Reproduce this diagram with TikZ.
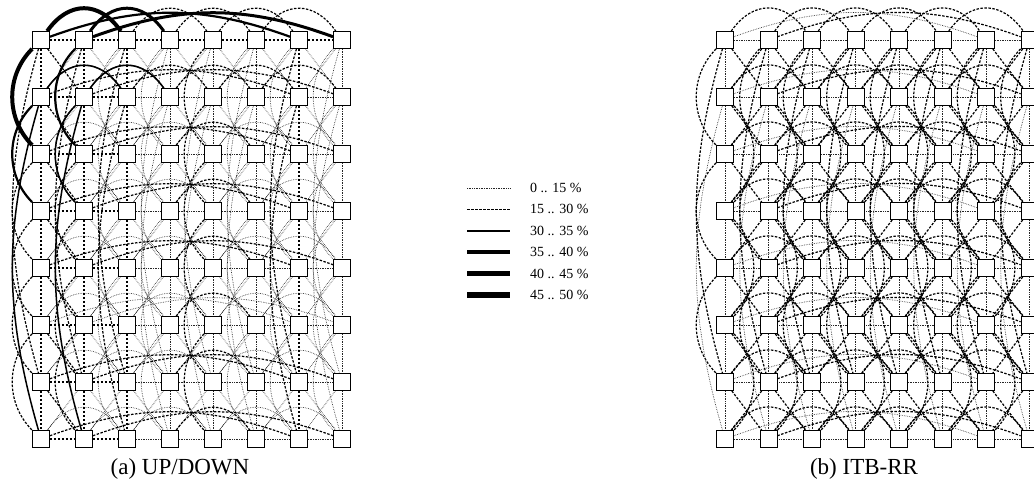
\documentclass[tikz,border=0pt]{standalone}
\usepackage{fontspec}
\setmainfont{Liberation Serif}
\pgfdeclarelayer{links}
\pgfsetlayers{links,main}
\tikzset{
  swbox/.style={rectangle, draw=black, fill=white, line width=0.8pt,
    minimum size=17pt, inner sep=0pt},
  % link load classes
  u0/.style={line width=0.7pt, black!85, dash pattern=on 0.6pt off 1.1pt},
  u1/.style={line width=1.2pt, dash pattern=on 2.5pt off 1.5pt},
  u2/.style={line width=1.5pt},
  u3/.style={line width=2.2pt},
  u4/.style={line width=3pt},
  u5/.style={line width=4pt},
  % link shapes
  hop/.style={out=55, in=125, looseness=1.3},
  vhopl/.style={bend right=45},
  vhopr/.style={bend left=45},
  hlong/.style={bend left=20},
  vlong/.style={bend right=16},
  legtext/.style={anchor=west, inner sep=0pt, font=\fontsize{14}{16}\selectfont},
  captext/.style={inner sep=0pt, font=\fontsize{23}{26}\selectfont},
}
\begin{document}
\begin{tikzpicture}[x=1pt, y=-1pt]
\useasboundingbox (0,0) rectangle (1034,481);

% switches of both networks
\foreach \c in {0,...,7}{
  \foreach \r in {0,...,7}{
    \node[swbox] (a-\c-\r) at ({41+43*\c},{40+57*\r}) {};
    \node[swbox] (b-\c-\r) at ({725+43.5*\c},{40+57*\r}) {};
  }
}

\begin{pgfonlayer}{links}
% ---------------- network (a): UP/DOWN
\foreach \c in {0,...,7}{
  \foreach \r in {0,...,7}{
    \pgfmathtruncatemacro\cn{\c+1}\pgfmathtruncatemacro\cnn{\c+2}
    \pgfmathtruncatemacro\rn{\r+1}\pgfmathtruncatemacro\rnn{\r+2}
    % row neighbour
    \ifnum\c<7
      \def\st{u0}\ifnum\c<2 \def\st{u1}\fi\ifnum\r=0 \def\st{u1}\fi
      \draw[\st] (a-\c-\r) -- (a-\cn-\r);
    \fi
    % column neighbour
    \ifnum\r<7
      \def\st{u0}\ifnum\c<3 \def\st{u1}\fi\ifnum\c=6 \def\st{u1}\fi
      \draw[\st] (a-\c-\r) -- (a-\c-\rn);
    \fi
    % diagonals
    \ifnum\c<7 \ifnum\r<7
      \def\st{u0}\ifnum\c=0 \def\st{u1}\fi
      \draw[\st] (a-\c-\r) -- (a-\cn-\rn);
      \draw[u0] (a-\cn-\r) -- (a-\c-\rn);
    \fi\fi
    % two-column hops
    \ifnum\c<6
      \def\st{u0}\ifnum\r<2 \def\st{u1}\fi\ifnum\c=3 \def\st{u1}\fi
      \draw[\st] (a-\c-\r) to[hop] (a-\cnn-\r);
    \fi
    % two-row hops
    \ifnum\r<6
      \def\st{u0}\ifnum\c<2 \def\st{u1}\fi\ifnum\c=4 \def\st{u1}\fi
      \draw[\st] (a-\c-\r) to[vhopl] (a-\c-\rnn);
    \fi
  }
}
% long row links
\foreach \r/\ls in {1/u1,2/u1,3/u1,4/u1,5/u0,6/u1,7/u1}{
  \draw[\ls] (a-0-\r) to[hlong] (a-6-\r);
  \draw[\ls] (a-1-\r) to[hlong] (a-7-\r);
}
% long column links
\foreach \c/\ls in {2/u1,3/u0,4/u0,5/u0,6/u1,7/u0}{
  \draw[\ls] (a-\c-0) to[vlong] (a-\c-6);
  \draw[\ls] (a-\c-1) to[vlong] (a-\c-7);
}
\draw[u1] (a-0-0) to[vlong] (a-0-6);
\draw[u1] (a-1-0) to[vlong] (a-1-6);
% heavily loaded links near the root
\draw[u5] (a-0-0) to[hop] (a-2-0);
\draw[u4] (a-1-0) to[hop] (a-3-0);
\draw[u3] (a-0-0) to[hlong] (a-6-0);
\draw[u4] (a-1-0) to[hlong] (a-7-0);
\draw[u5] (a-0-0) to[vhopl] (a-0-2);
\draw[u3] (a-1-0) to[vhopl] (a-1-2);
\draw[u3] (a-0-1) to[vhopl] (a-0-3);
\draw[u2] (a-1-1) to[vhopl] (a-1-3);
\draw[u2] (a-0-1) to[hop] (a-2-1);
\draw[u2] (a-1-1) to[hop] (a-3-1);
\draw[u2] (a-0-1) to[vlong] (a-0-7);
\draw[u2] (a-1-1) to[vlong] (a-1-7);

% ---------------- network (b): ITB-RR
\foreach \c in {0,...,7}{
  \foreach \r in {0,...,7}{
    \pgfmathtruncatemacro\cn{\c+1}\pgfmathtruncatemacro\cnn{\c+2}
    \pgfmathtruncatemacro\rn{\r+1}\pgfmathtruncatemacro\rnn{\r+2}
    \ifnum\c<7 \draw[u0] (b-\c-\r) -- (b-\cn-\r); \fi
    \ifnum\r<7 \draw[u0] (b-\c-\r) -- (b-\c-\rn); \fi
    \ifnum\c<7 \ifnum\r<7
      \draw[u1] (b-\c-\r) -- (b-\cn-\rn);
      \draw[u1] (b-\cn-\r) -- (b-\c-\rn);
    \fi\fi
    \ifnum\c<6 \draw[u1] (b-\c-\r) to[hop] (b-\cnn-\r); \fi
    \ifnum\r<6
      \ifodd\r \draw[u1] (b-\c-\r) to[vhopr] (b-\c-\rnn);
      \else \draw[u1] (b-\c-\r) to[vhopl] (b-\c-\rnn); \fi
    \fi
  }
}
\foreach \r in {0,...,7}{
  \draw[u0] (b-0-\r) to[hlong] (b-6-\r);
  \draw[u1] (b-1-\r) to[hlong] (b-7-\r);
}
\foreach \c in {0,...,7}{
  \draw[u1] (b-\c-0) to[vlong] (b-\c-6);
  \draw[u0] (b-\c-1) to[vlong] (b-\c-7);
}
\end{pgfonlayer}

% legend of link utilisation
\foreach \i/\ls/\lw/\txt in {0/u0/0.6pt/{0 .. 15 \%},1/u1/1.2pt/{15 .. 30 \%},
                             2/u2/2.4pt/{30 .. 35 \%},3/u3/3.6pt/{35 .. 40 \%},
                             4/u4/5pt/{40 .. 45 \%},5/u5/6.5pt/{45 .. 50 \%}}{
  \coordinate (lg-\i-w) at (467,{188+21.4*\i});
  \coordinate (lg-\i-e) at (510,{188+21.4*\i});
  \draw[\ls, line width=\lw] (lg-\i-w) -- (lg-\i-e);
  \node[legtext] (lgt-\i) at (530,{188+21.4*\i}) {\txt};
}

% captions
\node[captext] (capa) at (180,469) {(a) UP/DOWN};
\node[captext] (capb) at (864,469) {(b) ITB-RR};
\end{tikzpicture}
\end{document}
